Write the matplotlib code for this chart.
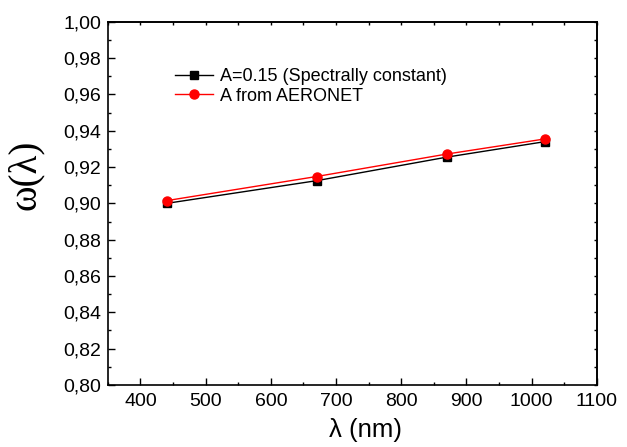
import matplotlib.pyplot as plt
from matplotlib.ticker import MultipleLocator, FuncFormatter, NullFormatter

plt.rcParams['font.family'] = ['Liberation Sans', 'DejaVu Sans']

# data
wavelength = [440, 670, 870, 1020]
w_const = [0.900, 0.9125, 0.9255, 0.934]
w_aeronet = [0.9015, 0.9148, 0.9272, 0.9355]

fig = plt.figure(figsize=(6.27, 4.47), dpi=100)
ax = fig.add_axes([0.172, 0.139, 0.780, 0.812])

ax.plot(wavelength, w_const, color='black', lw=1, marker='s', ms=5.5,
        label='A=0.15 (Spectrally constant)')
ax.plot(wavelength, w_aeronet, color='red', lw=1, marker='o', ms=6.5,
        label='A from AERONET')

ax.set_xlim(350, 1100)
ax.set_ylim(0.80, 1.00)
ax.xaxis.set_major_locator(MultipleLocator(100))
ax.xaxis.set_minor_locator(MultipleLocator(50))
ax.yaxis.set_major_locator(MultipleLocator(0.02))
ax.yaxis.set_minor_locator(MultipleLocator(0.01))
ax.yaxis.set_major_formatter(FuncFormatter(lambda v, p: f'{v:.2f}'.replace('.', ',')))

ax.tick_params(which='both', direction='in', labelsize=14, width=1)
ax.tick_params(which='major', length=5)
ax.tick_params(which='minor', length=2.5)
ax.tick_params(axis='x', pad=6)
ax.tick_params(axis='y', pad=5)
for sp in ax.spines.values():
    sp.set_linewidth(1.2)

# short mirror ticks on top and right
top = ax.secondary_xaxis('top')
right = ax.secondary_yaxis('right')
top.xaxis.set_major_locator(MultipleLocator(50))
right.yaxis.set_major_locator(MultipleLocator(0.01))
top.xaxis.set_major_formatter(NullFormatter())
right.yaxis.set_major_formatter(NullFormatter())
top.tick_params(direction='in', length=2, width=1)
right.tick_params(direction='in', length=2, width=1)
for s in (top, right):
    for sp in s.spines.values():
        sp.set_linewidth(1.2)

ax.set_xlabel('λ (nm)', fontsize=18.5)
ax.xaxis.set_label_coords(0.526, -0.09)
ax.set_ylabel('ω(λ)', fontsize=28, family=['Liberation Serif', 'DejaVu Serif'])
ax.yaxis.set_label_coords(-0.13, 0.58)

ax.legend(loc='upper left', bbox_to_anchor=(0.137, 0.873), frameon=False, fontsize=13,
          handlelength=2.1, handletextpad=0.4, labelspacing=0.15, borderpad=0,
          borderaxespad=0)

fig.savefig('out.png', dpi=100)
